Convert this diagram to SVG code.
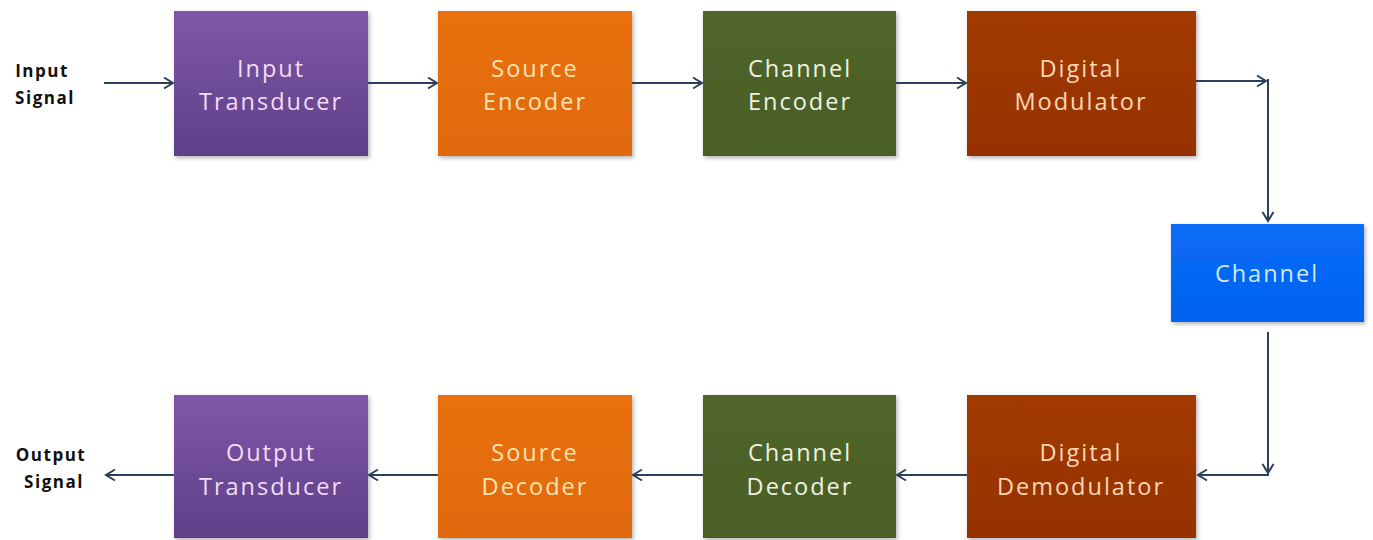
<svg xmlns="http://www.w3.org/2000/svg" width="1373" height="540" viewBox="0 0 1373 540">
<style>
.lbl{font-family:"Open Sans","Noto Sans",sans-serif;font-size:23.5px;letter-spacing:2px;text-anchor:middle}
.side{font-family:"Open Sans","Noto Sans",sans-serif;font-size:17px;font-weight:bold;letter-spacing:1.5px;fill:#111;text-anchor:middle}
.cn{fill:none;stroke:#2d405b;stroke-width:2;marker-end:url(#ah)}
.box{filter:url(#sh)}
</style>
<defs>
<marker id="ah" markerUnits="userSpaceOnUse" markerWidth="14" markerHeight="14" refX="11" refY="7" orient="auto">
<path d="M2,1.5 L11,7 L2,12.5" fill="none" stroke="#2d405b" stroke-width="2"/>
</marker>
<filter id="sh" x="-10%" y="-10%" width="125%" height="125%">
<feDropShadow dx="1.5" dy="2" stdDeviation="2" flood-color="#000" flood-opacity="0.3"/>
</filter>
<linearGradient id="gP" x1="0" y1="0" x2="0" y2="1"><stop offset="0" stop-color="#7f58a8"/><stop offset="1" stop-color="#5f3f88"/></linearGradient>
<linearGradient id="gO" x1="0" y1="0" x2="0" y2="1"><stop offset="0" stop-color="#e8700e"/><stop offset="1" stop-color="#e06a08"/></linearGradient>
<linearGradient id="gG" x1="0" y1="0" x2="0" y2="1"><stop offset="0" stop-color="#50652a"/><stop offset="1" stop-color="#4a5e26"/></linearGradient>
<linearGradient id="gR" x1="0" y1="0" x2="0" y2="1"><stop offset="0" stop-color="#a13a02"/><stop offset="1" stop-color="#963200"/></linearGradient>
<linearGradient id="gB" x1="0" y1="0" x2="0" y2="1"><stop offset="0" stop-color="#0a6cf5"/><stop offset="1" stop-color="#0062f0"/></linearGradient>
</defs>
<rect width="1373" height="540" fill="#fff"/>

<g id="input-signal"><text class="side" x="42" y="77">Input</text><text class="side" x="45" y="104">Signal</text></g>
<g id="output-signal"><text class="side" x="51" y="461">Output</text><text class="side" x="54" y="488">Signal</text></g>

<g id="input-transducer"><rect class="box" x="174" y="11" width="194" height="145" fill="url(#gP)"/><text class="lbl" fill="#f2dcf6" x="271" y="77">Input</text><text class="lbl" fill="#f2dcf6" x="271" y="110">Transducer</text></g>
<g id="source-encoder"><rect class="box" x="438" y="11" width="194" height="145" fill="url(#gO)"/><text class="lbl" fill="#fde3b2" x="535" y="77">Source</text><text class="lbl" fill="#fde3b2" x="535" y="110">Encoder</text></g>
<g id="channel-encoder"><rect class="box" x="703" y="11" width="193" height="145" fill="url(#gG)"/><text class="lbl" fill="#eef2e2" x="800" y="77">Channel</text><text class="lbl" fill="#eef2e2" x="800" y="110">Encoder</text></g>
<g id="digital-modulator"><rect class="box" x="967" y="11" width="229" height="145" fill="url(#gR)"/><text class="lbl" fill="#fcd6b6" x="1081" y="77">Digital</text><text class="lbl" fill="#fcd6b6" x="1081" y="110">Modulator</text></g>
<g id="channel"><rect class="box" x="1171" y="224" width="193" height="98" fill="url(#gB)"/><text class="lbl" fill="#cfe7fb" x="1267" y="282">Channel</text></g>
<g id="digital-demodulator"><rect class="box" x="967" y="395" width="229" height="143" fill="url(#gR)"/><text class="lbl" fill="#fcd6b6" x="1081" y="461">Digital</text><text class="lbl" fill="#fcd6b6" x="1081" y="495">Demodulator</text></g>
<g id="channel-decoder"><rect class="box" x="703" y="395" width="193" height="143" fill="url(#gG)"/><text class="lbl" fill="#eef2e2" x="800" y="461">Channel</text><text class="lbl" fill="#eef2e2" x="800" y="495">Decoder</text></g>
<g id="source-decoder"><rect class="box" x="438" y="395" width="194" height="143" fill="url(#gO)"/><text class="lbl" fill="#fde3b2" x="535" y="461">Source</text><text class="lbl" fill="#fde3b2" x="535" y="495">Decoder</text></g>
<g id="output-transducer"><rect class="box" x="174" y="395" width="194" height="143" fill="url(#gP)"/><text class="lbl" fill="#f2dcf6" x="271" y="461">Output</text><text class="lbl" fill="#f2dcf6" x="271" y="495">Transducer</text></g>

<g id="connectors">
<line class="cn" x1="104" y1="83" x2="173" y2="83"/>
<line class="cn" x1="368" y1="83" x2="437" y2="83"/>
<line class="cn" x1="632" y1="83" x2="702" y2="83"/>
<line class="cn" x1="896" y1="83" x2="966" y2="83"/>
<line class="cn" x1="1196" y1="81" x2="1266" y2="81"/>
<line class="cn" x1="1268" y1="79" x2="1268" y2="221"/>
<line class="cn" x1="1268" y1="332" x2="1268" y2="473"/>
<line class="cn" x1="1269" y1="475" x2="1198" y2="475"/>
<line class="cn" x1="967" y1="475" x2="897" y2="475"/>
<line class="cn" x1="703" y1="475" x2="633" y2="475"/>
<line class="cn" x1="438" y1="475" x2="369" y2="475"/>
<line class="cn" x1="174" y1="475" x2="106" y2="475"/>
</g>
</svg>
